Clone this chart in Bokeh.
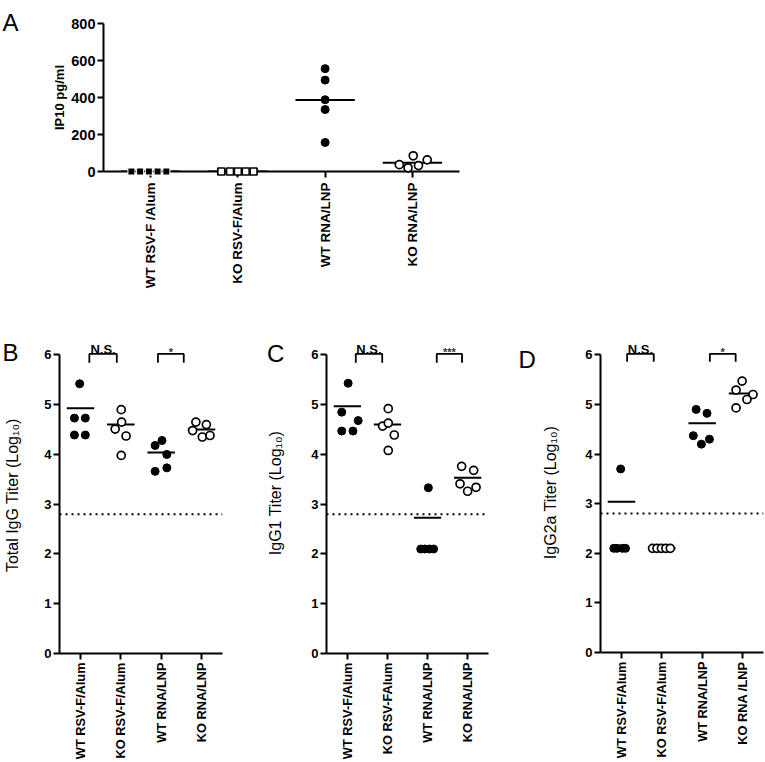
import math
from bokeh.plotting import figure
from bokeh.layouts import column, row
from bokeh.models import Span, FixedTicker, Range1d
from bokeh.core.properties import value
from bokeh.embed import file_html
from bokeh.resources import INLINE

FONT = "Liberation Sans"

# ---------------- data ----------------
cats_A = ["WT RSV-F /Alum", "KO RSV-F/Alum", "WT RNA/LNP", "KO RNA/LNP"]
ip10_wt_rsv = [0, 0, 0, 0, 0]
ip10_ko_rsv = [0, 0, 0, 0, 0]
ip10_wt_rna = [556, 494, 388, 335, 157]
ip10_ko_rna = [85, 63, 37, 32, 20]
ip10_means = [0, 0, 386, 47]
ip10_ticks = [0, 200, 400, 600, 800]

cats_B = ["WT RSV-F/Alum", "KO RSV-F/Alum", "WT RNA/LNP", "KO RNA/LNP"]
igg_wt_rsv = [5.42, 4.73, 4.73, 4.39, 4.39]
igg_ko_rsv = [4.90, 4.51, 4.65, 4.37, 3.98]
igg_wt_rna = [4.18, 4.28, 4.00, 3.66, 3.73]
igg_ko_rna = [4.65, 4.60, 4.48, 4.35, 4.38]
igg_means = [4.93, 4.60, 4.04, 4.50]
sig_B = ["N.S.", "*"]

cats_C = ["WT RSV-F/Alum", "KO RSV-FAlum", "WT RNA/LNP", "KO RNA/LNP"]
igg1_wt_rsv = [5.43, 4.85, 4.68, 4.47, 4.47]
igg1_ko_rsv = [4.92, 4.57, 4.63, 4.39, 4.08]
igg1_wt_rna = [3.33, 2.10, 2.10, 2.10, 2.10]
igg1_ko_rna = [3.76, 3.68, 3.41, 3.26, 3.34]
igg1_means = [4.97, 4.60, 2.73, 3.53]
sig_C = ["N.S.", "***"]

cats_D = ["WT RSV-F/Alum", "KO RSV-F/Alum", "WT RNA/LNP", "KO RNA /LNP"]
igg2a_wt_rsv = [3.70, 2.10, 2.10, 2.10, 2.10]
igg2a_ko_rsv = [2.10, 2.10, 2.10, 2.10, 2.10]
igg2a_wt_rna = [4.90, 4.82, 4.37, 4.30, 4.20]
igg2a_ko_rna = [5.47, 5.29, 5.20, 5.10, 4.93]
igg2a_means = [3.04, 2.10, 4.62, 5.22]
sig_D = ["N.S.", "*"]

titer_ticks = [0, 1, 2, 3, 4, 5, 6]
detection_limit = 2.8

# ---------------- layout / style (not data) ----------------
jit_A = [[-0.22, -0.12, -0.02, 0.08, 0.18], [-0.19, -0.09, 0.0, 0.09, 0.18],
         [0, 0, 0, 0, 0], [0.01, 0.17, -0.15, 0.07, -0.05]]
jit_B = [[-0.02, -0.15, 0.12, -0.15, 0.12], [0.01, -0.14, 0.02, 0.13, 0.01],
         [-0.15, 0.02, 0.14, -0.15, 0.14], [-0.14, 0.12, -0.22, 0.02, 0.21]]
jit_C = [[0.02, -0.14, 0.27, -0.14, 0.14], [0.02, -0.12, 0.02, 0.17, 0.02],
         [0.02, -0.17, -0.07, 0.05, 0.15], [-0.15, 0.15, -0.19, 0.0, 0.21]]
jit_D = [[-0.02, -0.19, -0.11, 0.02, 0.10], [-0.23, -0.12, -0.01, 0.10, 0.21],
         [-0.15, 0.12, -0.22, 0.18, -0.02], [-0.01, -0.16, 0.26, 0.11, -0.16]]
# brackets: (x_left, x_right, y_top, y_leg, text_y)
br_B = [(0.22, 0.90, 6.02, 5.84, 6.10), (1.92, 2.56, 6.02, 5.84, 6.05)]
br_C = [(0.21, 0.87, 6.02, 5.84, 6.10), (2.23, 2.86, 6.02, 5.84, 6.05)]
br_D = [(0.14, 0.80, 6.02, 5.86, 6.11), (2.19, 2.83, 6.02, 5.86, 6.06)]

MEAN_HALF = 0.34
GEOM = {}


def make_fig(bl, fw, br, bt, fh, bb, xr, yr):
    p = figure(frame_width=fw, frame_height=fh, min_border_left=bl, min_border_right=br,
               min_border_top=bt, min_border_bottom=bb,
               x_range=Range1d(*xr), y_range=Range1d(*yr),
               output_backend="svg", toolbar_location=None, tools="")
    p.outline_line_color = None
    p.grid.visible = False
    GEOM[p.id] = (bl, bt, fw, fh, xr, yr)
    return p


def to_data(p, cx, cy):
    bl, bt, fw, fh, (x0, x1), (y0, y1) = GEOM[p.id]
    return (x0 + (cx - bl) * (x1 - x0) / fw, y1 - (cy - bt) * (y1 - y0) / fh)


def style_axes(p, cats, yticks, ybounds, title, title_size, title_style, standoff,
               tick_size, cat_size, cat_standoff):
    xa, ya = p.xaxis[0], p.yaxis[0]
    xa.ticker = FixedTicker(ticks=list(range(len(cats))))
    xa.major_label_overrides = {i: c for i, c in enumerate(cats)}
    xa.major_label_orientation = math.pi / 2
    ya.ticker = FixedTicker(ticks=yticks)
    ya.bounds = ybounds
    ya.axis_label = title
    ya.axis_label_text_font = FONT
    ya.axis_label_text_font_size = title_size
    ya.axis_label_text_font_style = title_style
    ya.axis_label_text_color = "black"
    ya.axis_label_standoff = standoff
    for ax, sz, so in ((xa, cat_size, cat_standoff), (ya, tick_size, 2)):
        ax.axis_line_width = 2
        ax.axis_line_color = "black"
        ax.major_tick_line_width = 2
        ax.major_tick_line_color = "black"
        ax.major_tick_out = 6
        ax.major_tick_in = 0
        ax.minor_tick_line_color = None
        ax.major_label_text_font = FONT
        ax.major_label_text_font_size = sz
        ax.major_label_text_font_style = "bold"
        ax.major_label_text_color = "black"
        ax.major_label_standoff = so


def draw_groups(p, groups, jits, means, markers, size):
    xs0 = [i - MEAN_HALF for i in range(len(means))]
    xs1 = [i + MEAN_HALF for i in range(len(means))]
    p.segment(x0=xs0, x1=xs1, y0=means, y1=means, line_color="black", line_width=2)
    for i, (vals, jit, (mk, filled)) in enumerate(zip(groups, jits, markers)):
        xs = [i + d for d in jit]
        sz = size - 1 if mk == "square" else size
        p.scatter(x=xs, y=vals, marker=mk, size=sz,
                  fill_color="black" if filled else "white",
                  line_color="black" if not filled or mk != "square" else "white",
                  line_width=1.0 if filled else 1.7,
                  level="overlay")


def draw_brackets(p, specs, texts, sizes, colors):
    for (x0, x1, yt, yl, ty), t, sz, c in zip(specs, texts, sizes, colors):
        p.line(x=[x0, x0, x1, x1], y=[yl, yt, yt, yl], line_color="black", line_width=1.8)
        p.text(x=[(x0 + x1) / 2], y=[ty], text=[t], text_font=value(FONT),
               text_font_size=sz, text_font_style="bold", text_align="center",
               text_baseline="alphabetic", text_color=c)


def letter(p, txt, cx, cy):
    x, y = to_data(p, cx, cy)
    p.text(x=[x], y=[y], text=[txt], text_font=value(FONT), text_font_size="24px",
           text_baseline="alphabetic", text_align="left", text_color="black",
           level="overlay")


# ---------------- panel A ----------------
pA = make_fig(103, 356, 20, 23, 148, 129, (-0.54, 3.54), (0, 800))
style_axes(pA, cats_A, ip10_ticks, (0, 800), "IP10 pg/ml", "13px", "bold", 1, "14.5px", "13.5px", 5)
draw_groups(pA, [ip10_wt_rsv, ip10_ko_rsv, ip10_wt_rna, ip10_ko_rna], jit_A, ip10_means,
            [("square", True), ("square", False), ("circle", True), ("circle", False)], 8)
letter(pA, "A", 2, 22)

# ---------------- panels B-D ----------------
circ = [("circle", True), ("circle", False), ("circle", True), ("circle", False)]
sig_cols = ["black", "#333333"]

pB = make_fig(59, 163, 36, 32, 321, 108, (-0.52, 3.52), (0, 6.45))
style_axes(pB, cats_B, titer_ticks, (0, 6), "Total  IgG Titer (Log₁₀)", "16px", "normal", 20, "13px", "12.8px", 3)
pB.add_layout(Span(location=detection_limit, dimension="width", line_color="black",
                   line_width=2, line_dash="2 4"))
draw_groups(pB, [igg_wt_rsv, igg_ko_rsv, igg_wt_rna, igg_ko_rna], jit_B, igg_means, circ, 8)
draw_brackets(pB, br_B, sig_B, ["13px", "11px"], sig_cols)
letter(pB, "B", 2, 52)

pC = make_fig(68, 162, 20, 32, 321, 108, (-0.52, 3.52), (0, 6.45))
style_axes(pC, cats_C, titer_ticks, (0, 6), "IgG1 Titer (Log₁₀)", "16px", "normal", 24, "13px", "12.8px", 3)
pC.add_layout(Span(location=detection_limit, dimension="width", line_color="black",
                   line_width=2, line_dash="2 4"))
draw_groups(pC, [igg1_wt_rsv, igg1_ko_rsv, igg1_wt_rna, igg1_ko_rna], jit_C, igg1_means, circ, 8)
draw_brackets(pC, br_C, sig_C, ["13px", "11px"], sig_cols)
letter(pC, "C", 8.5, 53)

pD = make_fig(92, 163, 2, 26, 320, 115, (-0.52, 3.52), (0, 6.45))
style_axes(pD, cats_D, titer_ticks, (0, 6), "IgG2a Titer (Log₁₀)", "16px", "normal", 23, "13px", "12.8px", 3)
pD.add_layout(Span(location=detection_limit, dimension="width", line_color="black",
                   line_width=2, line_dash="2 4"))
draw_groups(pD, [igg2a_wt_rsv, igg2a_ko_rsv, igg2a_wt_rna, igg2a_ko_rna], jit_D, igg2a_means, circ, 8)
draw_brackets(pD, br_D, sig_D, ["13px", "11px"], sig_cols)
letter(pD, "D", 10, 53)

layout = column(pA, row(pB, pC, pD, spacing=0), spacing=0)
open("out.html", "w").write(file_html(layout, INLINE))
